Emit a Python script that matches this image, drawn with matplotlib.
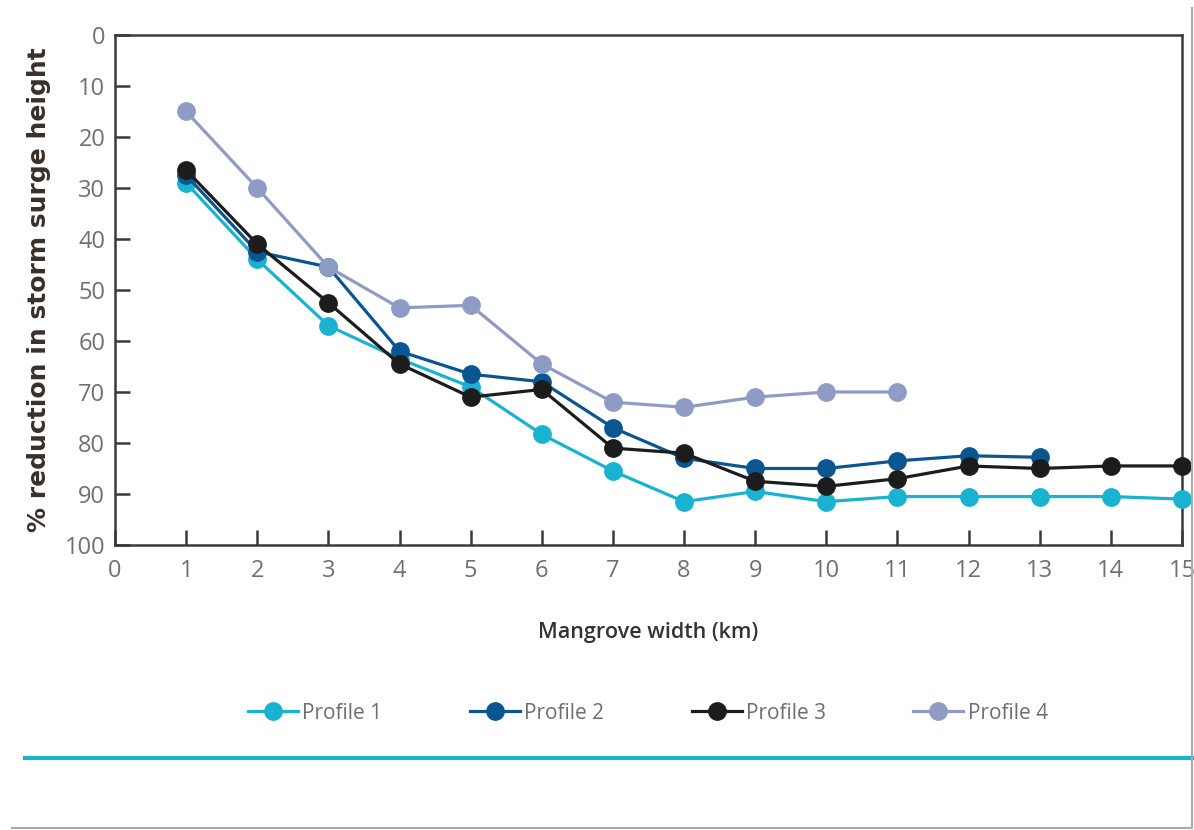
import matplotlib
matplotlib.use("Agg")
import matplotlib.pyplot as plt
from matplotlib.lines import Line2D

x1 = [1, 2, 3, 4, 5, 6, 7, 8, 9, 10, 11, 12, 13, 14, 15]
p1 = [29, 44, 57, 63.5, 69, 78.3, 85.5, 91.5, 89.5, 91.5, 90.5, 90.5, 90.5, 90.5, 91]
x2 = [1, 2, 3, 4, 5, 6, 7, 8, 9, 10, 11, 12, 13]
p2 = [27.5, 42.5, 45.5, 62, 66.5, 68, 77, 83, 85, 85, 83.5, 82.5, 82.8]
x3 = [1, 2, 3, 4, 5, 6, 7, 8, 9, 10, 11, 12, 13, 14, 15]
p3 = [26.5, 41, 52.5, 64.5, 71, 69.5, 81, 82, 87.5, 88.5, 87, 84.5, 85, 84.5, 84.5]
x4 = [1, 2, 3, 4, 5, 6, 7, 8, 9, 10, 11]
p4 = [15, 30, 45.5, 53.5, 53, 64.5, 72, 73, 71, 70, 70]

labels = ["Profile 1", "Profile 2", "Profile 3", "Profile 4"]
colors = ["#19b2d1", "#0b5591", "#1c1c1c", "#8e9bc4"]
xticks = list(range(0, 16))
yticks = list(range(0, 101, 10))

plt.rcParams['font.family'] = ['Open Sans', 'DejaVu Sans']

fig = plt.figure(figsize=(11.94, 8.30), dpi=100)
ax = fig.add_axes([115/1194, 1 - 545/830, (1182 - 115)/1194, (545 - 35)/830])

series = [(x1, p1), (x2, p2), (x3, p3), (x4, p4)]
for (xs, ys), c, lab in zip(series, colors, labels):
    ax.plot(xs, ys, color=c, lw=2.3, marker='o', ms=12.5, label=lab, clip_on=False, zorder=3)

ax.set_xlim(0, 15)
ax.set_ylim(100, 0)
ax.set_xticks(xticks)
ax.set_yticks(yticks)
ax.tick_params(direction='in', length=11, width=1.8, color='#3a3a3a',
               labelsize=17, labelcolor='#707070')
ax.tick_params(axis='x', pad=10)
ax.tick_params(axis='y', pad=7)
for s in ax.spines.values():
    s.set_linewidth(1.8)
    s.set_color('#3a3a3a')

ax.set_ylabel('% reduction in storm surge height', fontsize=18, fontweight='bold',
              color='#3b2f2a', labelpad=10, family='DejaVu Sans')
ax.set_xlabel('Mangrove width (km)', fontsize=15.5, fontweight='semibold',
              color='#333333', labelpad=28)

handles = [Line2D([0], [0], color=c, lw=2.3, marker='o', ms=12.5) for c in colors]
leg = fig.legend(handles, labels, loc='center', bbox_to_anchor=(648/1194, 1 - 713/830),
                 ncol=4, frameon=False, fontsize=15, handlelength=2.4, handletextpad=0.2,
                 columnspacing=4.2)
for t in leg.get_texts():
    t.set_color('#6d6e71')

fig.add_artist(Line2D([25/1194, 1], [1 - 758/830, 1 - 758/830], color='#19b2d1', lw=3))
fig.add_artist(Line2D([0.01, 0.998, 0.998], [0.003, 0.003, 0.99], color='#aaaaaa', lw=1.5))

fig.savefig('out.png', dpi=100)
